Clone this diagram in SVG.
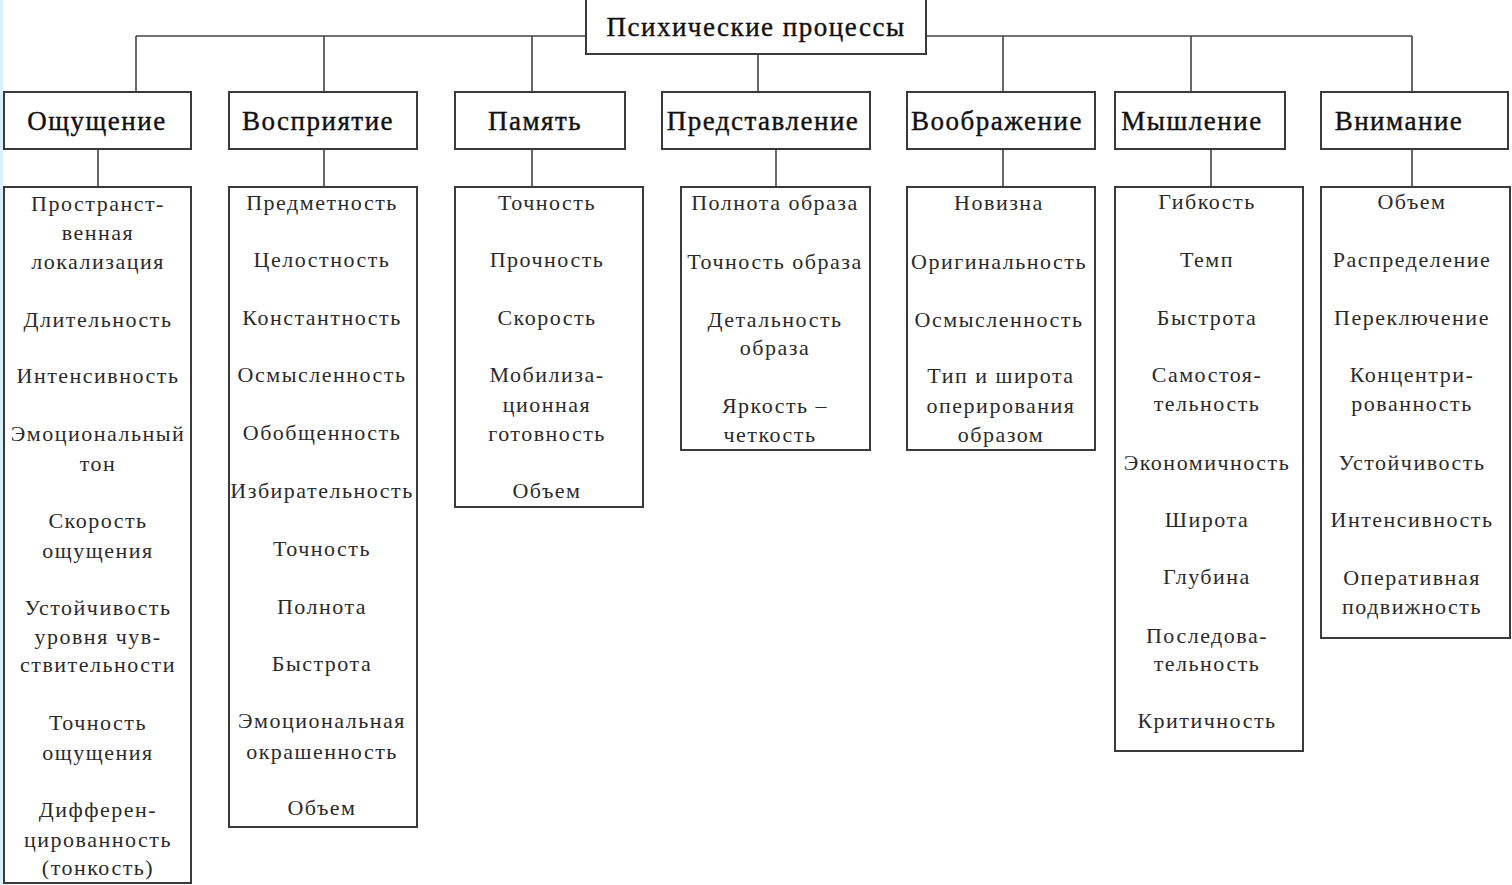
<svg xmlns="http://www.w3.org/2000/svg" width="1512" height="885" viewBox="0 0 1512 885">
<style>
.box{fill:#fff;stroke:#3a3a3a;stroke-width:2}
.ln{fill:none;stroke:#444;stroke-width:1.6}
.hd{font-family:"Liberation Serif","Times New Roman",serif;font-size:27px;fill:#111;stroke:#111;stroke-width:0.4;letter-spacing:1.5px;text-anchor:middle}
.it{font-family:"Liberation Serif","Times New Roman",serif;font-size:22px;fill:#2a2a2a;letter-spacing:1.5px;text-anchor:middle}
</style>
<rect x="0" y="0" width="1512" height="885" fill="#fff"/>
<rect x="0" y="0" width="3" height="885" fill="#d8f0fa"/>
<g id="connectors" class="ln">
<path d="M136 36H586M926 36H1412"/>
<path d="M136 36V92M324 36V92M532 36V92M758 54V92M1003 36V92M1191 36V92M1412 36V92"/>
<path d="M98 149V187M324 149V187M532 149V187M776 149V187M1003 149V187M1211 149V187M1412 149V187"/>
</g>
<g id="root">
<rect class="box" x="586" y="-1" width="340" height="55"/>
<text class="hd" x="756" y="36">Психические процессы</text>
</g>
<g id="h-oshchushchenie">
<rect class="box" x="4" y="92" width="187" height="57"/>
<text class="hd" x="97" y="130">Ощущение</text>
</g>
<g id="h-vospriyatie">
<rect class="box" x="229" y="92" width="188" height="57"/>
<text class="hd" x="318" y="130">Восприятие</text>
</g>
<g id="h-pamyat">
<rect class="box" x="455" y="92" width="170" height="57"/>
<text class="hd" x="535" y="130">Память</text>
</g>
<g id="h-predstavlenie">
<rect class="box" x="662" y="92" width="208" height="57"/>
<text class="hd" x="763" y="130">Представление</text>
</g>
<g id="h-voobrazhenie">
<rect class="box" x="907" y="92" width="188" height="57"/>
<text class="hd" x="997" y="130">Воображение</text>
</g>
<g id="h-myshlenie">
<rect class="box" x="1115" y="92" width="170" height="57"/>
<text class="hd" x="1192" y="130">Мышление</text>
</g>
<g id="h-vnimanie">
<rect class="box" x="1321" y="92" width="187" height="57"/>
<text class="hd" x="1399" y="130">Внимание</text>
</g>
<g id="d-oshchushchenie">
<rect class="box" x="4" y="187" width="187" height="696"/>
<text class="it" x="98" y="211">Пространст-</text>
<text class="it" x="98" y="240">венная</text>
<text class="it" x="98" y="269">локализация</text>
<text class="it" x="98" y="327">Длительность</text>
<text class="it" x="98" y="383">Интенсивность</text>
<text class="it" x="98" y="441">Эмоциональный</text>
<text class="it" x="98" y="471">тон</text>
<text class="it" x="98" y="528">Скорость</text>
<text class="it" x="98" y="558">ощущения</text>
<text class="it" x="98" y="615">Устойчивость</text>
<text class="it" x="98" y="644">уровня чув-</text>
<text class="it" x="98" y="672">ствительности</text>
<text class="it" x="98" y="730">Точность</text>
<text class="it" x="98" y="760">ощущения</text>
<text class="it" x="98" y="817">Дифферен-</text>
<text class="it" x="98" y="847">цированность</text>
<text class="it" x="98" y="875">(тонкость)</text>
</g>
<g id="d-vospriyatie">
<rect class="box" x="229" y="187" width="188" height="640"/>
<text class="it" x="322" y="210">Предметность</text>
<text class="it" x="322" y="267">Целостность</text>
<text class="it" x="322" y="325">Константность</text>
<text class="it" x="322" y="382">Осмысленность</text>
<text class="it" x="322" y="440">Обобщенность</text>
<text class="it" x="322" y="498">Избирательность</text>
<text class="it" x="322" y="556">Точность</text>
<text class="it" x="322" y="614">Полнота</text>
<text class="it" x="322" y="671">Быстрота</text>
<text class="it" x="322" y="728">Эмоциональная</text>
<text class="it" x="322" y="759">окрашенность</text>
<text class="it" x="322" y="815">Объем</text>
</g>
<g id="d-pamyat">
<rect class="box" x="455" y="187" width="188" height="320"/>
<text class="it" x="547" y="210">Точность</text>
<text class="it" x="547" y="267">Прочность</text>
<text class="it" x="547" y="325">Скорость</text>
<text class="it" x="547" y="382">Мобилиза-</text>
<text class="it" x="547" y="412">ционная</text>
<text class="it" x="547" y="441">готовность</text>
<text class="it" x="547" y="498">Объем</text>
</g>
<g id="d-predstavlenie">
<rect class="box" x="681" y="187" width="189" height="263"/>
<text class="it" x="775" y="210">Полнота образа</text>
<text class="it" x="775" y="269">Точность образа</text>
<text class="it" x="775" y="327">Детальность</text>
<text class="it" x="775" y="355">образа</text>
<text class="it" x="775" y="413">Яркость –</text>
<text class="it" x="770" y="442">четкость</text>
</g>
<g id="d-voobrazhenie">
<rect class="box" x="907" y="187" width="188" height="263"/>
<text class="it" x="999" y="210">Новизна</text>
<text class="it" x="999" y="269">Оригинальность</text>
<text class="it" x="999" y="327">Осмысленность</text>
<text class="it" x="1001" y="383">Тип и широта</text>
<text class="it" x="1001" y="413">оперирования</text>
<text class="it" x="1001" y="442">образом</text>
</g>
<g id="d-myshlenie">
<rect class="box" x="1115" y="187" width="188" height="564"/>
<text class="it" x="1207" y="209">Гибкость</text>
<text class="it" x="1207" y="267">Темп</text>
<text class="it" x="1207" y="325">Быстрота</text>
<text class="it" x="1207" y="382">Самостоя-</text>
<text class="it" x="1207" y="411">тельность</text>
<text class="it" x="1207" y="470">Экономичность</text>
<text class="it" x="1207" y="527">Широта</text>
<text class="it" x="1207" y="584">Глубина</text>
<text class="it" x="1207" y="643">Последова-</text>
<text class="it" x="1207" y="671">тельность</text>
<text class="it" x="1207" y="728">Критичность</text>
</g>
<g id="d-vnimanie">
<rect class="box" x="1321" y="187" width="189" height="451"/>
<text class="it" x="1412" y="209">Объем</text>
<text class="it" x="1412" y="267">Распределение</text>
<text class="it" x="1412" y="325">Переключение</text>
<text class="it" x="1412" y="382">Концентри-</text>
<text class="it" x="1412" y="411">рованность</text>
<text class="it" x="1412" y="470">Устойчивость</text>
<text class="it" x="1412" y="527">Интенсивность</text>
<text class="it" x="1412" y="585">Оперативная</text>
<text class="it" x="1412" y="614">подвижность</text>
</g>
</svg>
